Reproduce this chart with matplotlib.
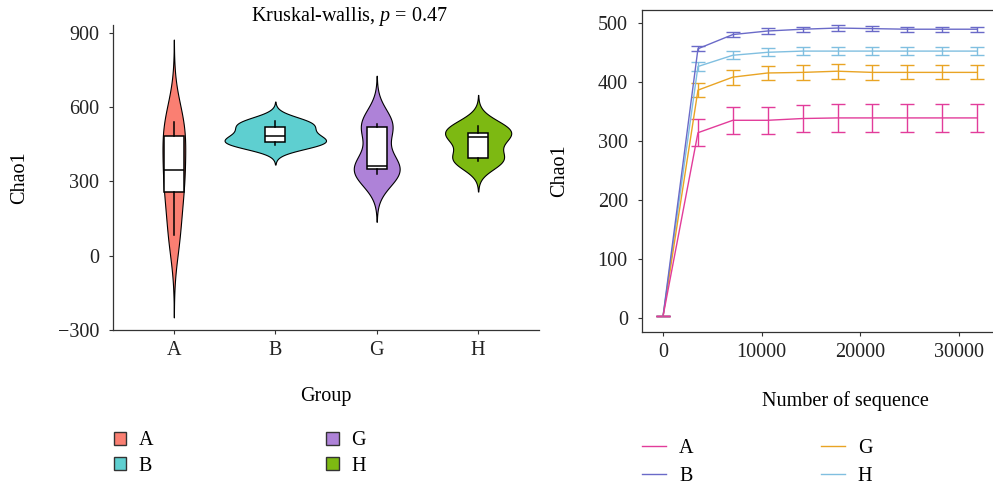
import numpy as np
import matplotlib
matplotlib.use("Agg")
import matplotlib.pyplot as plt
from matplotlib.lines import Line2D
from matplotlib.patches import Patch

plt.rcParams["font.family"] = ["Liberation Serif", "DejaVu Serif"]
plt.rcParams["mathtext.fontset"] = "custom"
plt.rcParams["mathtext.rm"] = "Liberation Serif"
plt.rcParams["mathtext.it"] = "Liberation Serif:italic"

FS = 14.5

GROUPS = ["A", "B", "G", "H"]
VIOLIN_COLORS = ["#FA7F72", "#5ECFD0", "#AE82D8", "#7DB912"]
LINE_COLORS = ["#E23C9A", "#6A6AC8", "#E9A424", "#80BFE0"]

# Chao1 per sample, by group (left panel)
chao1_A = [84, 257, 345, 485, 540]
chao1_B = [448, 458, 482, 521, 543]
chao1_G = [331, 350, 361, 521, 533]
chao1_H = [383, 395, 478, 495, 526]

# rarefaction curves (right panel)
seq_depth = [0, 3543, 7086, 10629, 14172, 17715, 21258, 24801, 28344, 31887]
curve_A = [4, 314, 335, 335, 338, 339, 339, 339, 339, 339]
curve_B = [4, 456, 480, 486, 489, 491, 490, 489, 489, 489]
curve_G = [4, 386, 408, 415, 416, 418, 416, 416, 416, 416]
curve_H = [4, 426, 445, 450, 452, 452, 452, 452, 452, 452]
err_A = [0, 23, 23, 23, 23.5, 23.5, 23.5, 23.5, 23.5, 23.5]
err_B = [0, 4.5, 4, 4.5, 4.5, 5, 4.5, 4.5, 4.5, 4.5]
err_G = [0, 12, 12.5, 12.5, 12.5, 12.5, 12.5, 12, 12, 12]
err_H = [0, 7, 7, 7, 7, 7, 7, 7, 7, 7]


def nrd0(x):
    sd = x.std(ddof=1)
    iqr = np.subtract(*np.percentile(x, [75, 25]))
    return 0.9 * min(sd, iqr / 1.34) * len(x) ** -0.2


def kde_stats(x, n=512):
    # ggplot-like untrimmed violin: density over range +/- 3 bandwidths
    x = np.asarray(x, float)
    bw = nrd0(x)
    coords = np.linspace(x.min() - 3 * bw, x.max() + 3 * bw, n)
    z = (coords[:, None] - x[None, :]) / bw
    dens = np.exp(-0.5 * z ** 2).sum(axis=1) / (len(x) * bw * np.sqrt(2 * np.pi))
    return dict(coords=coords, vals=dens, mean=x.mean(), median=np.median(x),
                min=x.min(), max=x.max())


fig = plt.figure(figsize=(9.93, 4.87), dpi=100)
W, H = 993, 487

# ---- left: violins ----
ax1 = fig.add_axes([113 / W, 1 - 330 / H, 426 / W, 305 / H])
data = [chao1_A, chao1_B, chao1_G, chao1_H]
stats = [kde_stats(d) for d in data]
gmax = max(s["vals"].max() for s in stats)
widths = [1.0 * s["vals"].max() / gmax for s in stats]  # area scaling
vp = ax1.violin(stats, positions=[1, 2, 3, 4], widths=widths,
                showmeans=False, showextrema=False, showmedians=False)
for body, c in zip(vp["bodies"], VIOLIN_COLORS):
    body.set_facecolor(c)
    body.set_edgecolor("black")
    body.set_linewidth(0.8)
    body.set_alpha(1)

ax1.boxplot(data, positions=[1, 2, 3, 4], widths=0.2, patch_artist=True,
            showfliers=False, showcaps=False, manage_ticks=False, zorder=3,
            boxprops=dict(facecolor="white", edgecolor="black", linewidth=1.1),
            medianprops=dict(color="black", linewidth=1.1),
            whiskerprops=dict(color="black", linewidth=1.1))

ax1.set_xlim(0.4, 4.6)
ax1.set_ylim(-300, 932)
ax1.set_xticks([1, 2, 3, 4])
ax1.set_xticklabels(GROUPS)
ax1.set_yticks([-300, 0, 300, 600, 900])
for s in ["top", "right"]:
    ax1.spines[s].set_visible(False)

ax1.set_xlabel("Group", fontsize=FS)
ax1.xaxis.set_label_coords(0.5, -(396.7 - 330) / 305)
ax1.xaxis.label.set_va("center")
ax1.set_ylabel("Chao1", fontsize=FS)
ax1.yaxis.set_label_coords((20 - 113) / 426, 0.5)
ax1.yaxis.label.set_va("center")

fig.text(349 / W, 1 - 17 / H, "Kruskal-wallis, $p$ = 0.47", ha="center",
         va="center", fontsize=FS)

# ---- right: rarefaction ----
ax2 = fig.add_axes([641.7 / W, 1 - 331.7 / H, (W - 641.7) / W, 321.7 / H])
curves = [curve_A, curve_B, curve_G, curve_H]
errs = [err_A, err_B, err_G, err_H]
# draw H first so A ends up on top
for yv, ev, c in list(zip(curves, errs, LINE_COLORS))[::-1]:
    ax2.errorbar(seq_depth, yv, yerr=ev, color=c, lw=1.0, elinewidth=1.0,
                 capsize=5, capthick=1.0)
ax2.set_xlim(-2170, 33500)
ax2.set_ylim(-22.5, 521.5)
ax2.set_xticks([0, 10000, 20000, 30000])
ax2.set_yticks([0, 100, 200, 300, 400, 500])
ax2.spines["right"].set_visible(False)

ax2.set_xlabel("Number of sequence", fontsize=FS)
ax2.xaxis.set_label_coords((845 - 641.7) / (W - 641.7), -(401 - 331.7) / 321.7)
ax2.xaxis.label.set_va("center")
ax2.set_ylabel("Chao1", fontsize=FS)
ax2.yaxis.set_label_coords((560 - 641.7) / (W - 641.7), 0.5)
ax2.yaxis.label.set_va("center")

for ax in (ax1, ax2):
    for s in ax.spines.values():
        s.set_linewidth(0.9)
        s.set_color("#333333")
    ax.tick_params(labelsize=FS, length=3, width=0.8, colors="#333333",
                   labelcolor="#222222")
    ax.tick_params(axis="y", pad=7)
    ax.tick_params(axis="x", pad=5)

# ---- legends ----
h1 = [Patch(facecolor=c, edgecolor="#333333", linewidth=1.0) for c in VIOLIN_COLORS]
fig.legend(h1, GROUPS, loc="center left", bbox_to_anchor=(114 / W, 1 - 453.5 / H),
           ncol=2, frameon=False, fontsize=FS, handlelength=0.6, handleheight=0.6,
           handletextpad=0.63, columnspacing=8.6, labelspacing=0.3,
           borderpad=0, borderaxespad=0)

h2 = [Line2D([], [], color=c, lw=1.0) for c in LINE_COLORS]
fig.legend(h2, GROUPS, loc="center left", bbox_to_anchor=(642 / W, 1 - 462.3 / H),
           ncol=2, frameon=False, fontsize=FS, handlelength=1.2,
           handletextpad=0.65, columnspacing=6.3, labelspacing=0.45,
           borderpad=0, borderaxespad=0)

fig.savefig("out.png", dpi=100)
